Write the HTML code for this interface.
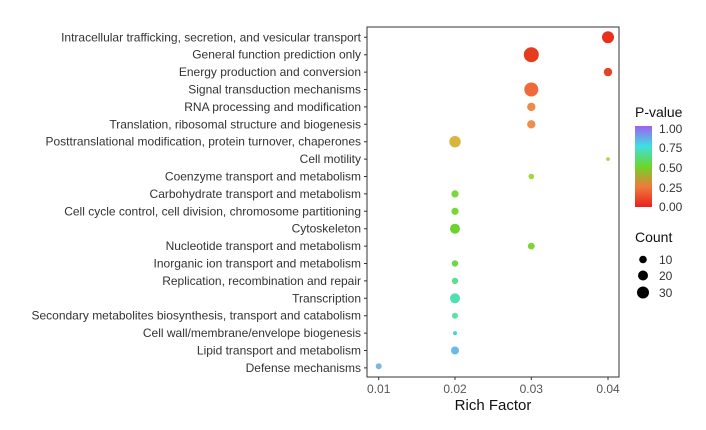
<!DOCTYPE html><html><head><style>body{margin:0;background:#fff}</style></head><body>
<svg width="706" height="425" xmlns="http://www.w3.org/2000/svg" font-family="Liberation Sans, sans-serif">
<defs><linearGradient id="g" x1="0" y1="1" x2="0" y2="0">
<stop offset="0" stop-color="#e8221c"/><stop offset="0.25" stop-color="#f07a3a"/><stop offset="0.5" stop-color="#6cd62a"/><stop offset="0.75" stop-color="#3ee0e0"/><stop offset="1" stop-color="#a060f0"/></linearGradient></defs>
<rect x="367" y="27" width="252" height="350" fill="#fff" stroke="#333" stroke-width="1"/>
<g font-size="12" fill="#333" text-anchor="end">
<text x="361" y="41.3">Intracellular trafficking, secretion, and vesicular transport</text>
<text x="361" y="58.7">General function prediction only</text>
<text x="361" y="76.1">Energy production and conversion</text>
<text x="361" y="93.5">Signal transduction mechanisms</text>
<text x="361" y="110.9">RNA processing and modification</text>
<text x="361" y="128.3">Translation, ribosomal structure and biogenesis</text>
<text x="361" y="145.7">Posttranslational modification, protein turnover, chaperones</text>
<text x="361" y="163.1">Cell motility</text>
<text x="361" y="180.5">Coenzyme transport and metabolism</text>
<text x="361" y="197.9">Carbohydrate transport and metabolism</text>
<text x="361" y="215.3">Cell cycle control, cell division, chromosome partitioning</text>
<text x="361" y="232.7">Cytoskeleton</text>
<text x="361" y="250.1">Nucleotide transport and metabolism</text>
<text x="361" y="267.5">Inorganic ion transport and metabolism</text>
<text x="361" y="284.9">Replication, recombination and repair</text>
<text x="361" y="302.3">Transcription</text>
<text x="361" y="319.7">Secondary metabolites biosynthesis, transport and catabolism</text>
<text x="361" y="337.1">Cell wall/membrane/envelope biogenesis</text>
<text x="361" y="354.5">Lipid transport and metabolism</text>
<text x="361" y="371.9">Defense mechanisms</text>
</g>
<g stroke="#333"><path d="M364 37.3h3M364 54.7h3M364 72.1h3M364 89.5h3M364 106.9h3M364 124.3h3M364 141.7h3M364 159.1h3M364 176.5h3M364 193.9h3M364 211.3h3M364 228.7h3M364 246.1h3M364 263.5h3M364 280.9h3M364 298.3h3M364 315.7h3M364 333.1h3M364 350.5h3M364 367.9h3M378.7 377v3M455 377v3M531.3 377v3M608 377v3"/></g>
<g font-size="12" fill="#555" text-anchor="middle"><text x="378.7" y="393">0.01</text><text x="455" y="393">0.02</text><text x="531.3" y="393">0.03</text><text x="608" y="393">0.04</text></g>
<text x="493" y="410" font-size="15" text-anchor="middle" fill="#111">Rich Factor</text>
<g>
<circle cx="608" cy="37.3" r="6" fill="#e8311a"/>
<circle cx="531.3" cy="54.7" r="7.5" fill="#e63b1c"/>
<circle cx="608" cy="72.1" r="4.2" fill="#e2432a"/>
<circle cx="531.3" cy="89.5" r="7" fill="#ee6a3a"/>
<circle cx="531.3" cy="106.9" r="4.2" fill="#ee8a4a"/>
<circle cx="531.3" cy="124.3" r="4.2" fill="#ee8f4f"/>
<circle cx="455" cy="141.7" r="5.7" fill="#d9b53a"/>
<circle cx="608" cy="159.1" r="1.8" fill="#a9d23e"/>
<circle cx="531.3" cy="176.5" r="2.8" fill="#9ed935"/>
<circle cx="455" cy="193.9" r="3.6" fill="#7dd63a"/>
<circle cx="455" cy="211.3" r="3.6" fill="#7ad630"/>
<circle cx="455" cy="228.7" r="5" fill="#6fd32e"/>
<circle cx="531.3" cy="246.1" r="3.4" fill="#7ad630"/>
<circle cx="455" cy="263.5" r="3.2" fill="#6ed648"/>
<circle cx="455" cy="280.9" r="3.2" fill="#5ee08a"/>
<circle cx="455" cy="298.3" r="5" fill="#4ee0b0"/>
<circle cx="455" cy="315.7" r="3" fill="#5de0a8"/>
<circle cx="455" cy="333.1" r="2" fill="#40d8d0"/>
<circle cx="455" cy="350.5" r="4" fill="#6cb8e8"/>
<circle cx="378.7" cy="366.3" r="3" fill="#7ab8e0"/>
</g>
<text x="635" y="117" font-size="14" fill="#111">P-value</text>
<rect x="635" y="126" width="17" height="81" fill="url(#g)"/>
<g font-size="12" fill="#333"><text x="659" y="133">1.00</text><text x="659" y="152">0.75</text><text x="659" y="172">0.50</text><text x="659" y="192">0.25</text><text x="659" y="211">0.00</text>
<text x="635" y="242" font-size="14" fill="#111">Count</text>
<text x="659" y="264">10</text><text x="659" y="280">20</text><text x="659" y="297">30</text></g>
<circle cx="643" cy="259.5" r="3.8" fill="#000"/><circle cx="643" cy="275.5" r="5" fill="#000"/><circle cx="643" cy="292.5" r="6" fill="#000"/>
</svg></body></html>
